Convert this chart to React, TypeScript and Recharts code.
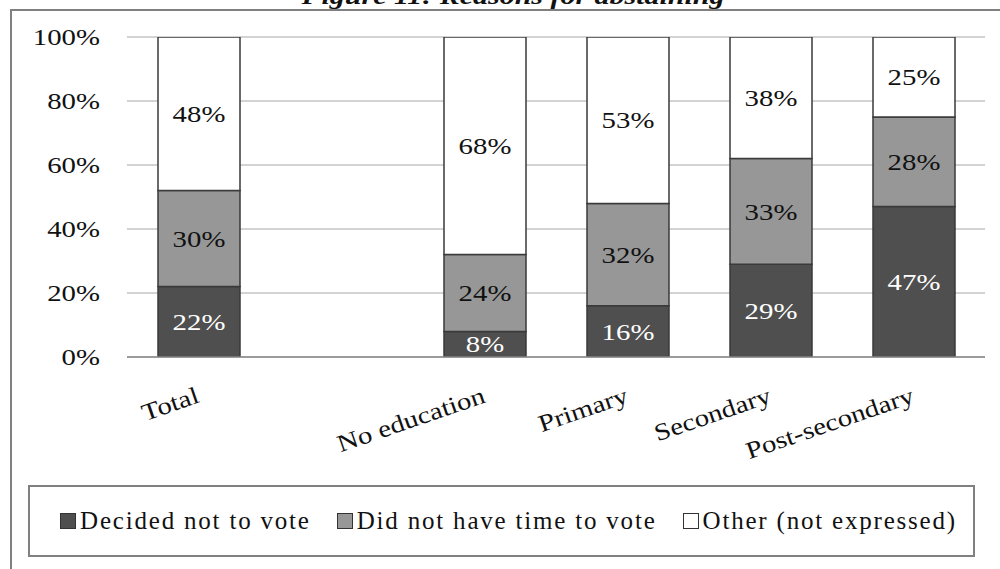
import React from 'react';
import { BarChart, Bar, XAxis, YAxis, CartesianGrid, Legend, LabelList } from 'recharts';

// Categories (the empty slot separates the total from the education groups)
const categories = ['Total', '', 'No education', 'Primary', 'Secondary', 'Post-secondary'];

// Shares of respondents (%) per reason
const decidedNotToVote = [22, null, 8, 16, 29, 47];
const noTimeToVote = [30, null, 24, 32, 33, 28];
const otherReason = [48, null, 68, 53, 38, 25];

const yTicks = [0, 20, 40, 60, 80, 100];

const series = [
  { key: 'decided', name: 'Decided not to vote', fill: '#4f4f4f', text: '#ffffff', values: decidedNotToVote },
  { key: 'noTime', name: 'Did not have time to vote', fill: '#979797', text: '#111111', values: noTimeToVote },
  { key: 'other', name: 'Other (not expressed)', fill: '#ffffff', text: '#111111', values: otherReason },
];

const data = categories.map((category, i) => {
  const row: Record<string, string | number | null> = { category };
  series.forEach((s) => {
    row[s.key] = s.values[i];
  });
  return row;
});

const SERIF = '"Liberation Serif", "Times New Roman", serif';
const SX = 1.2; // horizontal stretch of the lettering
const FONT = 24;

const YTick = (props: any) => {
  const { x, y, payload } = props;
  return (
    <text
      transform={`translate(${x},${y}) scale(${SX},1)`}
      textAnchor="end"
      dy="0.34em"
      fontSize={FONT}
      fontFamily={SERIF}
      fill="#111"
    >
      {`${payload.value}%`}
    </text>
  );
};

const XTick = (props: any) => {
  const { x, y, payload } = props;
  if (!payload.value) return null;
  return (
    <text
      transform={`translate(${x + 2},${y + 45}) rotate(-19) scale(${SX},1)`}
      textAnchor="end"
      fontSize={FONT}
      fontFamily={SERIF}
      fill="#111"
    >
      {payload.value}
    </text>
  );
};

const makeLabel = (color: string) => (props: any) => {
  const { x, y, width, height, value } = props;
  if (value === null || value === undefined) return null;
  const cx = Number(x) + Number(width) / 2;
  const cy = Number(y) + Number(height) / 2;
  return (
    <text
      transform={`translate(${cx},${cy}) scale(${SX},1)`}
      textAnchor="middle"
      dy="0.34em"
      fontSize={FONT}
      fontFamily={SERIF}
      fill={color}
    >
      {`${value}%`}
    </text>
  );
};

const LegendBox = () => (
  <div
    style={{
      boxSizing: 'border-box',
      width: '100%',
      height: '100%',
      border: '2px solid #808080',
      background: '#fff',
      display: 'flex',
      alignItems: 'center',
      justifyContent: 'center',
      gap: 26,
      paddingLeft: 14,
      fontFamily: SERIF,
      fontSize: 25,
      letterSpacing: '1.8px',
      color: '#111',
    }}
  >
    {series.map((s) => (
      <div key={s.key} style={{ display: 'flex', alignItems: 'center', gap: 4 }}>
        <span
          style={{
            display: 'inline-block',
            width: 16,
            height: 16,
            boxSizing: 'border-box',
            background: s.fill,
            border: '1px solid #333',
          }}
        />
        <span style={{ whiteSpace: 'nowrap' }}>{s.name}</span>
      </div>
    ))}
  </div>
);

export default function App() {
  return (
    <div
      style={{
        position: 'absolute',
        left: 0,
        top: 0,
        width: 1000,
        height: 569,
        overflow: 'hidden',
        background: '#fff',
      }}
    >
      <svg width={1000} height={20} style={{ position: 'absolute', left: 0, top: 0 }}>
        <text
          x={513}
          y={4}
          textAnchor="middle"
          fontFamily={SERIF}
          fontWeight="bold"
          fontStyle="italic"
          fontSize={24}
          textLength={423}
          lengthAdjust="spacingAndGlyphs"
          fill="#111"
        >
          Figure 11: Reasons for abstaining
        </text>
      </svg>
      <div
        style={{
          position: 'absolute',
          left: 10,
          top: 9,
          width: 1100,
          height: 700,
          borderLeft: '2px solid #808080',
          borderTop: '2px solid #808080',
        }}
      />
      <div style={{ position: 'absolute', left: 0, top: 0 }}>
        <BarChart
          width={1000}
          height={569}
          data={data}
          margin={{ top: 37, right: 15, left: 0, bottom: 0 }}
          barSize={82}
        >
          <CartesianGrid vertical={false} stroke="#c4c4c4" strokeWidth={1.5} />
          <XAxis
            dataKey="category"
            interval={0}
            height={212}
            tickLine={false}
            tickSize={0}
            tickMargin={0}
            axisLine={{ stroke: '#888', strokeWidth: 1.5 }}
            tick={<XTick />}
          />
          <YAxis
            type="number"
            domain={[0, 100]}
            ticks={yTicks}
            allowDataOverflow
            width={127}
            tickSize={0}
            tickMargin={27}
            axisLine={false}
            tickLine={false}
            tick={<YTick />}
          />
          <Legend
            layout="horizontal"
            verticalAlign="middle"
            align="center"
            wrapperStyle={{ top: 485, left: 28, width: 947, height: 72 }}
            content={() => <LegendBox />}
          />
          {series.map((s) => (
            <Bar
              key={s.key}
              dataKey={s.key}
              name={s.name}
              stackId="reasons"
              fill={s.fill}
              stroke="#3a3a3a"
              strokeWidth={1.5}
              isAnimationActive={false}
            >
              <LabelList dataKey={s.key} content={makeLabel(s.text)} />
            </Bar>
          ))}
        </BarChart>
      </div>
    </div>
  );
}
